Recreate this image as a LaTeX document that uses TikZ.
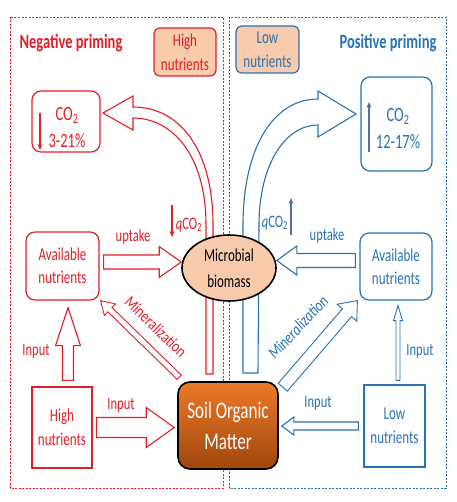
\documentclass[tikz,border=0pt]{standalone}
\usepackage{fontspec}
\setmainfont{Carlito}
\usetikzlibrary{calc,shapes.geometric,arrows.meta}

\definecolor{negred}{RGB}{226,30,38}
\definecolor{posblue}{RGB}{40,114,180}
\definecolor{qblue}{RGB}{84,110,170}
\definecolor{peach}{RGB}{248,203,173}
\definecolor{somtop}{RGB}{236,122,40}
\definecolor{sombot}{RGB}{160,70,12}

% narrow, tall lettering of the original
\newcommand{\tall}[1]{\scalebox{1}[1.4]{#1}}

% block arrow: [style]{from}{to}{shaft half}{head half}{head length}
\newcommand{\hollowarrow}[6][]{%
  \coordinate (ha) at (#2);
  \coordinate (hb) at (#3);
  \coordinate (hh) at ($(hb)!#6!(ha)$);
  \draw[#1] ($(ha)!#4!90:(hb)$) -- ($(hh)!#4!90:(hb)$) -- ($(hh)!#5!90:(hb)$)
    -- (hb) -- ($(hh)!#5!-90:(hb)$) -- ($(hh)!#4!-90:(hb)$)
    -- ($(ha)!#4!-90:(hb)$) -- cycle;
}

\begin{document}
\begin{tikzpicture}[x=1pt, y=-1pt,
  title/.style={font=\fontsize{14.5}{16}\selectfont\bfseries},
  tagbox/.style={draw, line width=1.2pt, rounded corners=6pt, fill=peach, align=center, inner sep=0pt, font=\fontsize{13}{24}\selectfont},
  box/.style={draw, line width=1.2pt, rounded corners=9pt, align=center, inner sep=0pt, font=\fontsize{13}{23}\selectfont},
  sqbox/.style={draw, line width=1.2pt, align=center, inner sep=0pt, font=\fontsize{13}{24}\selectfont},
  co2txt/.style={align=center, inner sep=0pt, font=\fontsize{14.5}{27}\selectfont},
  lbl/.style={inner sep=1pt, font=\fontsize{12.5}{14}\selectfont},
  redarrow/.style={draw=negred, line width=1.1pt, fill=white, line join=miter},
  bluearrow/.style={draw=posblue, line width=1.1pt, fill=white, line join=miter},
  frame/.style={line width=0.6pt, dash pattern=on 2pt off 1.5pt}
]
\useasboundingbox (0,0) rectangle (456,502);

% the two halves
\draw[frame, negred] (10,17) rectangle (223,488);
\draw[frame, posblue] (229,17) rectangle (446,488);

% respiration arrows
\draw[redarrow] (213,374) -- (213,225) .. controls (213,150) and (180,107) .. (133,107)
  -- (133,96) -- (103,113) -- (133,130) -- (133,118)
  .. controls (172,118) and (206,155) .. (206,225) -- (206,374) -- cycle;
\draw[bluearrow] (243,373) -- (243,225) .. controls (243,150) and (272,99) .. (318,99)
  -- (318,91) -- (356,114) -- (318,137) -- (318,125)
  .. controls (285,125) and (259,165) .. (259,225) -- (258,373) -- cycle;

% headings
\node[title, text=negred] (negT) at (71,43) {\tall{Negative priming}};
\node[title, text=posblue] (posT) at (388,43) {\tall{Positive priming}};
\node[tagbox, draw=negred, text=negred, minimum width=62pt, minimum height=48pt] (highT) at (185,52) {\tall{High}\\\tall{nutrients}};
\node[tagbox, draw=posblue, text=posblue, minimum width=63pt, minimum height=47pt] (lowT) at (267.5,49.5) {\tall{Low}\\\tall{nutrients}};

% CO2 boxes
\node[box, draw=negred, minimum width=68pt, minimum height=61pt] (co2L) at (66,121.5) {};
\node[co2txt, text=negred] (co2Lt) at (67,127) {\tall{CO\textsubscript{2}}\\\tall{3-21\%}};
\draw[negred, line width=1.3pt, -{Stealth[length=6pt,width=5pt]}] (40,113) -- (40,150);
\node[box, draw=posblue, minimum width=71pt, minimum height=94pt] (co2R) at (396.5,124) {};
\node[co2txt, text=posblue] (co2Rt) at (398,128) {\tall{CO\textsubscript{2}}\\\tall{12-17\%}};
\draw[qblue, line width=1.3pt, -{Stealth[length=6pt,width=5pt]}] (369,152) -- (369,102);

% pools
\node[box, draw=negred, text=negred, minimum width=73pt, minimum height=68pt] (avlL) at (62.5,266) {\tall{Available}\\\tall{nutrients}};
\node[box, draw=posblue, text=posblue, minimum width=72pt, minimum height=67pt] (avlR) at (396,266.5) {\tall{Available}\\\tall{nutrients}};
\node[ellipse, draw, line width=1.6pt, fill=peach, minimum width=94pt, minimum height=66pt, inner sep=0pt, align=center, font=\fontsize{13}{26}\selectfont] (mb) at (229,268) {\tall{Microbial}\\\tall{biomass}};
\node[draw, line width=1.6pt, rounded corners=12pt, top color=somtop, bottom color=sombot, text=white, minimum width=100pt, minimum height=87pt, inner sep=0pt, align=center, font=\fontsize{17}{31}\selectfont] (som) at (228,425.5) {\tall{Soil Organic}\\\tall{Matter}};
\node[sqbox, draw=negred, text=negred, minimum width=60pt, minimum height=81pt] (highB) at (62,427.5) {\tall{High}\\\tall{nutrients}};
\node[sqbox, draw=posblue, text=posblue, minimum width=61pt, minimum height=82pt] (lowB) at (394.5,426) {\tall{Low}\\\tall{nutrients}};

% flows, negative side
\coordinate (upLa) at ([shift={(4,-4)}]avlL.east);
\coordinate (upLb) at (mb.west |- upLa);
\hollowarrow[redarrow]{upLa}{upLb}{7pt}{15.5pt}{22pt}
\coordinate (inLb) at ([shift={(5.5,7)}]avlL.south);
\coordinate (inLa) at ($(inLb |- highB.north)+(0,-6)$);
\hollowarrow[redarrow]{inLa}{inLb}{5.5pt}{12.5pt}{38pt}
\coordinate (inHa) at ([xshift=4pt]highB.east);
\coordinate (inHb) at ($(som.west |- inHa)+(-3,0)$);
\hollowarrow[redarrow]{inHa}{inHb}{10pt}{20pt}{28pt}
\coordinate (minLa) at ([shift={(2,-4)}]som.north west);
\coordinate (minLb) at ([xshift=1pt]avlL.south east);
\hollowarrow[redarrow, line width=0.9pt]{minLa}{minLb}{3pt}{8pt}{13pt}

% flows, positive side
\coordinate (upRa) at ([shift={(-4,-6)}]avlR.west);
\coordinate (upRb) at (mb.east |- upRa);
\hollowarrow[bluearrow]{upRa}{upRb}{7pt}{14.5pt}{20pt}
\coordinate (inRb) at ([shift={(2,5)}]avlR.south);
\coordinate (inRa) at ($(inRb |- lowB.north)+(0,-4)$);
\hollowarrow[bluearrow, line width=0.9pt]{inRa}{inRb}{2pt}{4.5pt}{15pt}
\coordinate (inLoa) at ([xshift=-5pt]lowB.west);
\coordinate (inLob) at ($(som.east |- inLoa)+(3,0)$);
\hollowarrow[bluearrow]{inLoa}{inLob}{4pt}{9pt}{12pt}
\coordinate (minRa) at ([shift={(4,6)}]som.north east);
\coordinate (minRb) at ([xshift=-2pt]avlR.south west);
\hollowarrow[bluearrow, line width=0.9pt]{minRa}{minRb}{6pt}{13pt}{16pt}

% labels
\node[lbl, text=negred] (upLt) at (133,237) {\tall{uptake}};
\node[lbl, text=posblue] (upRt) at (327,236) {\tall{uptake}};
\node[lbl, text=negred] (inLt) at (36,351) {\tall{Input}};
\node[lbl, text=negred] (inHt) at (121,405) {\tall{Input}};
\node[lbl, text=posblue] (inRt) at (420,351) {\tall{Input}};
\node[lbl, text=posblue] (inLot) at (318,403) {\tall{Input}};
\node[lbl, text=negred, rotate=-44, font=\fontsize{13.5}{15}\selectfont] (minLt) at (156,327) {\scalebox{1}[1.25]{Mineralization}};
\node[lbl, text=posblue, rotate=47, font=\fontsize{13.5}{15}\selectfont] (minRt) at (298,327) {\scalebox{1}[1.25]{\itshape Mineralization}};
\node[lbl, text=negred] (qL) at (189,225) {\tall{\textit{q}CO\textsubscript{2}}};
\draw[negred, line width=1.2pt, -{Stealth[length=6pt,width=5pt]}] (172,205) -- (172,237);
\node[lbl, text=posblue] (qR) at (275,223) {\tall{\textit{q}CO\textsubscript{2}}};
\draw[qblue, line width=1.2pt, -{Stealth[length=6pt,width=5pt]}] (291,235) -- (291,198);
\end{tikzpicture}
\end{document}
